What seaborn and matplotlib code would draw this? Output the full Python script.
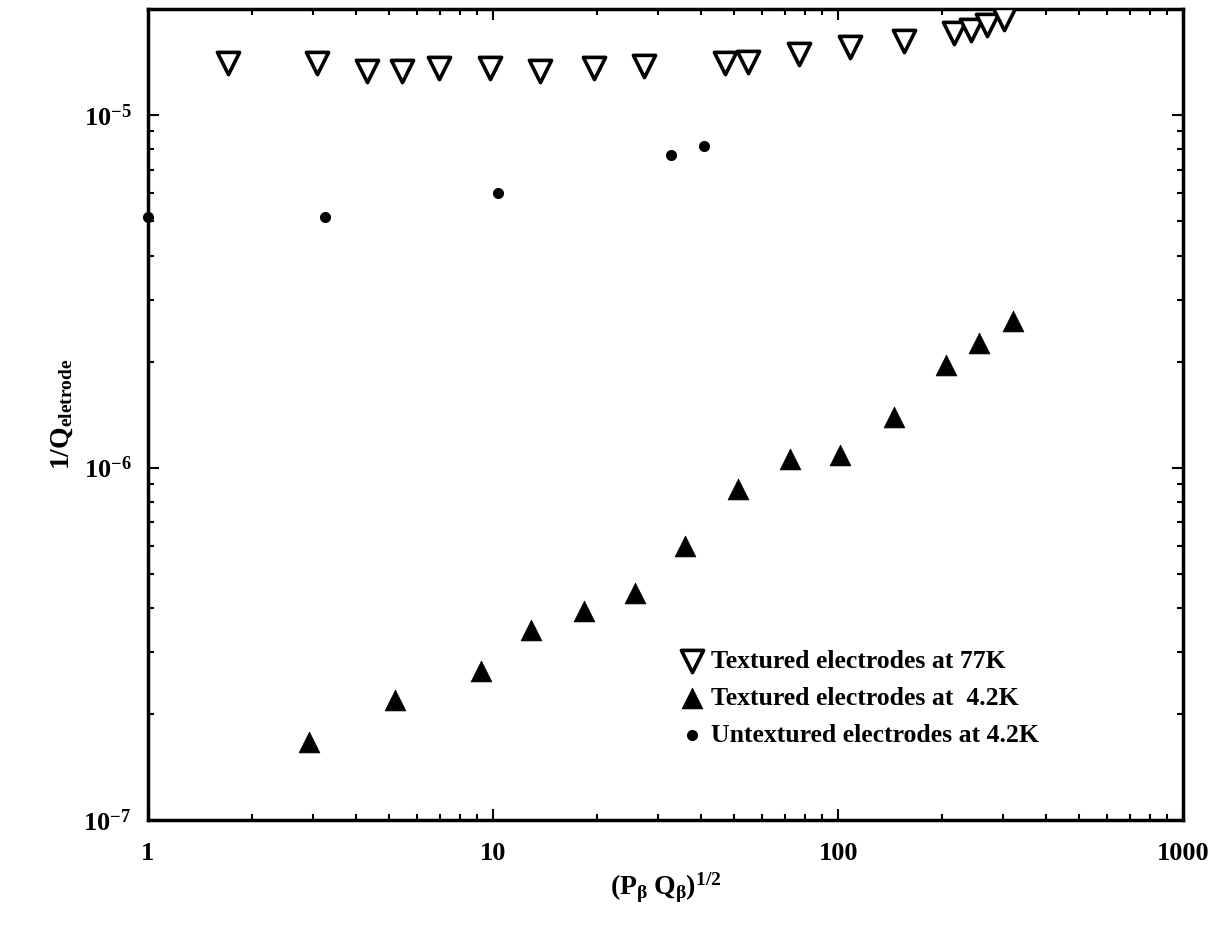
import matplotlib
matplotlib.use('Agg')
import matplotlib.pyplot as plt
import seaborn as sns
import numpy as np

# textured electrodes, 77K (open down triangles)
x_tex77 = [1.71, 3.09, 4.30, 5.44, 6.95, 9.82, 13.7, 19.6, 27.4, 46.9, 54.9, 76.8,
           108.5, 155, 217, 242, 270, 303]
y_tex77 = [1.41e-5, 1.41e-5, 1.34e-5, 1.34e-5, 1.36e-5, 1.36e-5, 1.34e-5, 1.36e-5,
           1.38e-5, 1.41e-5, 1.42e-5, 1.49e-5, 1.56e-5, 1.63e-5, 1.71e-5, 1.75e-5,
           1.80e-5, 1.88e-5]

# textured electrodes, 4.2K (filled triangles)
x_tex4 = [2.92, 5.18, 9.20, 12.9, 18.4, 25.8, 36.0, 51.4, 72.6, 101.3, 144.7, 205.4,
          255.5, 321.5]
y_tex4 = [1.67e-7, 2.19e-7, 2.64e-7, 3.45e-7, 3.91e-7, 4.40e-7, 6.01e-7, 8.67e-7,
          1.055e-6, 1.085e-6, 1.39e-6, 1.95e-6, 2.26e-6, 2.60e-6]

# untextured electrodes, 4.2K (dots)
x_untex = [1.0, 3.25, 10.3, 32.8, 40.8]
y_untex = [5.14e-6, 5.16e-6, 6.01e-6, 7.73e-6, 8.16e-6]

labels = ['Textured electrodes at 77K', 'Textured electrodes at  4.2K',
          'Untextured electrodes at 4.2K']

xticks = [1, 10, 100, 1000]
xticklabels = ['1', '10', '100', '1000']
yticks = [1e-7, 1e-6, 1e-5]
yticklabels = [r'$\mathbf{10^{-7}}$', r'$\mathbf{10^{-6}}$', r'$\mathbf{10^{-5}}$']

sns.set_style('ticks')
plt.rcParams['font.family'] = ['Liberation Serif', 'DejaVu Serif']
plt.rcParams['font.weight'] = 'bold'
plt.rcParams['mathtext.fontset'] = 'custom'
plt.rcParams['mathtext.rm'] = 'Liberation Serif:bold'
plt.rcParams['mathtext.it'] = 'Liberation Serif:bold'
plt.rcParams['mathtext.bf'] = 'Liberation Serif:bold'
for k in ['text.color', 'axes.labelcolor', 'xtick.color', 'ytick.color', 'axes.edgecolor']:
    plt.rcParams[k] = 'black'

fig = plt.figure(figsize=(12.18, 9.26), dpi=100)
ax = fig.add_axes([0.1215, 0.1145, 0.850, 0.8755])

sns.scatterplot(x=x_tex77, y=y_tex77, marker='v', s=16 ** 2, facecolor='white',
                edgecolor='black', linewidth=2.6, label=labels[0], ax=ax, zorder=3)
sns.scatterplot(x=x_tex4, y=y_tex4, marker='^', s=15 ** 2, color='black',
                edgecolor='black', linewidth=0.5, label=labels[1], ax=ax, zorder=3)
sns.scatterplot(x=x_untex, y=y_untex, marker='o', s=8 ** 2, color='black',
                edgecolor='black', linewidth=0, label=labels[2], ax=ax, zorder=3,
                clip_on=False)

ax.set_xscale('log')
ax.set_yscale('log')
ax.set_xlim(1, 1000)
ax.set_ylim(1e-7, 2.0e-5)

ax.set_xticks(xticks)
ax.set_xticklabels(xticklabels)
ax.set_yticks(yticks)
ax.set_yticklabels(yticklabels)

ax.tick_params(which='both', direction='in', top=True, right=True, width=1.5)
ax.tick_params(which='major', length=8, labelsize=19, pad=12)
ax.tick_params(axis='x', which='major', pad=16)
ax.tick_params(which='minor', length=4)
for sp in ax.spines.values():
    sp.set_linewidth(2.5)

ax.set_xlabel(r'$(P_\beta\;Q_\beta)^{1/2}$', fontsize=20, labelpad=4)
ax.set_ylabel(r'$1/Q_{\rm eletrode}$', fontsize=20, labelpad=6)

leg = ax.legend(loc='upper left', bbox_to_anchor=(0.502, 0.226), frameon=False,
                fontsize=18.5, handletextpad=0.3, labelspacing=0.55, borderpad=0,
                handlelength=0.9)

fig.savefig('out.png', dpi=100)
